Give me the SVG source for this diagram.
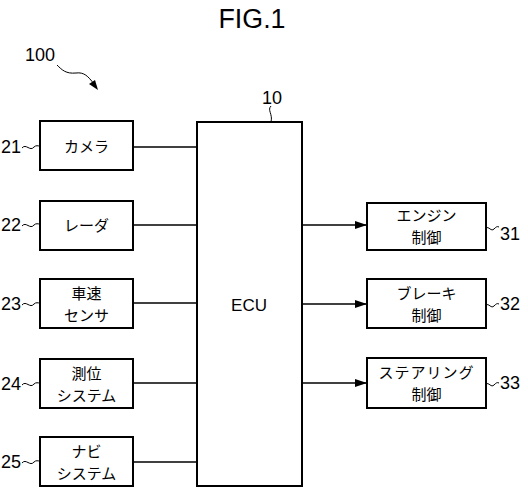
<svg xmlns="http://www.w3.org/2000/svg" width="528" height="488" viewBox="0 0 528 488">
<style>
.box{fill:#fff;stroke:#000;stroke-width:2}
.t{font-family:"Noto Sans CJK JP","Liberation Sans",sans-serif;font-size:15px;fill:#000;text-anchor:middle}
.n{font-family:"Liberation Sans",sans-serif;font-size:18px;fill:#000}
.c{stroke:#000;stroke-width:1.5;fill:none}
.ld{stroke:#000;stroke-width:1;fill:none}
</style>
<defs>
<marker id="ah" markerWidth="12" markerHeight="8" refX="12" refY="4" orient="auto" markerUnits="userSpaceOnUse">
<path d="M0,0 L12,4 L0,8 Z" fill="#000"/>
</marker>
</defs>
<rect width="528" height="488" fill="#fff"/>
<text x="252" y="28" font-family="Liberation Sans,sans-serif" font-size="27" text-anchor="middle" textLength="67" lengthAdjust="spacingAndGlyphs">FIG.1</text>
<g id="label100">
<text class="n" x="25" y="61" font-size="16">100</text>
<path class="ld" d="M57,65 C62,70 66,74 76,73 C84,72 88,76 94,84"/>
<path d="M89,84 L98,90 L95,80 Z" fill="#000"/>
</g>
<g id="connectors">
<line class="c" x1="133" y1="147" x2="197" y2="147"/>
<line class="c" x1="133" y1="225" x2="197" y2="225"/>
<line class="c" x1="133" y1="303" x2="197" y2="303"/>
<line class="c" x1="133" y1="383" x2="197" y2="383"/>
<line class="c" x1="133" y1="462" x2="197" y2="462"/>
<line class="c" x1="302" y1="225" x2="367" y2="225" marker-end="url(#ah)"/>
<line class="c" x1="302" y1="304" x2="367" y2="304" marker-end="url(#ah)"/>
<line class="c" x1="302" y1="383" x2="367" y2="383" marker-end="url(#ah)"/>
</g>
<g id="ecu">
<rect class="box" x="197" y="122" width="105" height="364"/>
<text x="249" y="311" font-family="Liberation Sans,sans-serif" font-size="17" text-anchor="middle">ECU</text>
<text class="n" x="262" y="104">10</text>
<path class="ld" d="M271,106 C267,110 273,114 271,122"/>
</g>
<g id="n21">
<rect class="box" x="40" y="121" width="93" height="49"/>
<text class="t" x="86.5" y="152" font-size="16">カメラ</text>
<text class="n" x="1" y="153">21</text>
<path class="ld" d="M22,148 C26,143 30,152 34,147 C36,145 38,146 40,146"/>
</g>
<g id="n22">
<rect class="box" x="40" y="201" width="93" height="49"/>
<text class="t" x="86.5" y="231" font-size="16">レーダ</text>
<text class="n" x="1" y="231">22</text>
<path class="ld" d="M22,226 C26,221 30,230 34,225 C36,223 38,224 40,224"/>
</g>
<g id="n23">
<rect class="box" x="40" y="279" width="93" height="49"/>
<text class="t" x="86.5" y="299">車速</text>
<text class="t" x="86.5" y="321">センサ</text>
<text class="n" x="1" y="310">23</text>
<path class="ld" d="M22,305 C26,300 30,309 34,304 C36,302 38,303 40,303"/>
</g>
<g id="n24">
<rect class="box" x="40" y="359" width="93" height="49"/>
<text class="t" x="86.5" y="379">測位</text>
<text class="t" x="86.5" y="401">システム</text>
<text class="n" x="1" y="390">24</text>
<path class="ld" d="M22,385 C26,380 30,389 34,384 C36,382 38,383 40,383"/>
</g>
<g id="n25">
<rect class="box" x="40" y="437" width="93" height="49"/>
<text class="t" x="86.5" y="457">ナビ</text>
<text class="t" x="86.5" y="479">システム</text>
<text class="n" x="1" y="468">25</text>
<path class="ld" d="M22,463 C26,458 30,467 34,462 C36,460 38,461 40,461"/>
</g>
<g id="n31">
<rect class="box" x="367" y="203" width="119" height="47"/>
<text class="t" x="426.5" y="221">エンジン</text>
<text class="t" x="426.5" y="243">制御</text>
<text class="n" x="500" y="240">31</text>
<path class="ld" d="M486,228 C489,226 491,232 494,229 C496,227 497,226 499,227"/>
</g>
<g id="n32">
<rect class="box" x="367" y="279" width="119" height="49"/>
<text class="t" x="426.5" y="299">ブレーキ</text>
<text class="t" x="426.5" y="321">制御</text>
<text class="n" x="500" y="310">32</text>
<path class="ld" d="M486,305 C489,303 491,309 494,306 C496,304 497,303 499,304"/>
</g>
<g id="n33">
<rect class="box" x="367" y="358" width="119" height="50"/>
<text class="t" x="426.5" y="378" letter-spacing="1">ステアリング</text>
<text class="t" x="426.5" y="400">制御</text>
<text class="n" x="500" y="389">33</text>
<path class="ld" d="M486,384 C489,382 491,388 494,385 C496,383 497,382 499,383"/>
</g>
</svg>
